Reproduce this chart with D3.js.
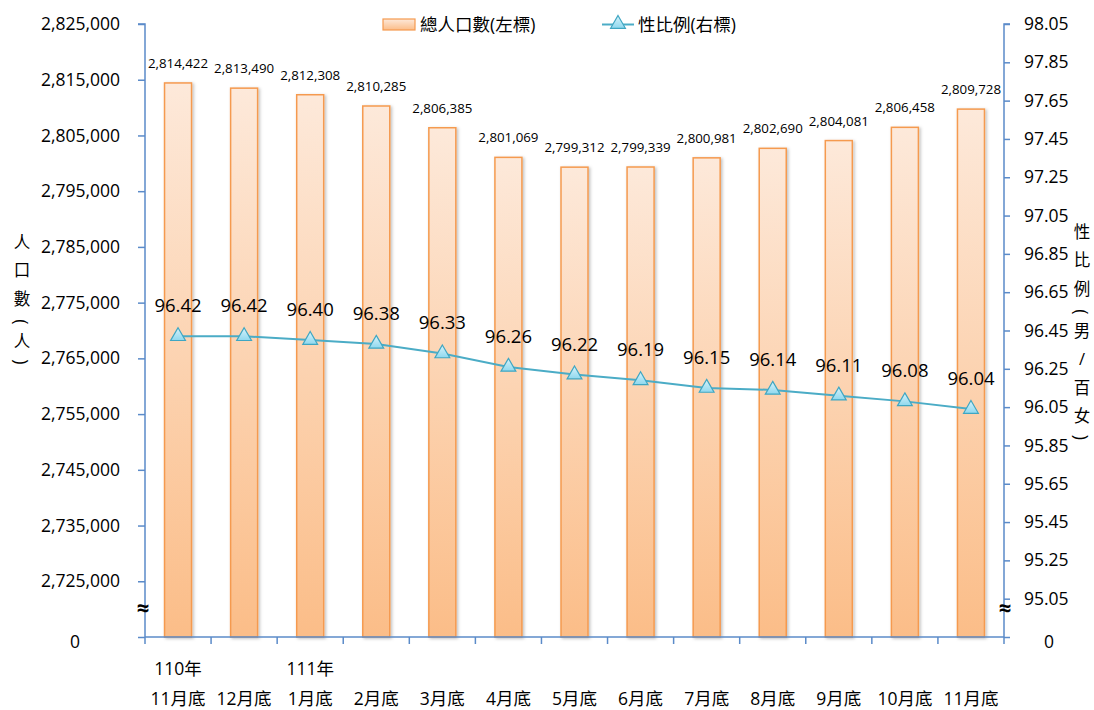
<!DOCTYPE html>
<html><head><meta charset="utf-8">
<script src="https://cdn.jsdelivr.net/npm/d3@7/dist/d3.min.js"></script>
<style>
body{margin:0;background:#fff;}
text{font-family:"Open Sans","Noto Sans","Noto Sans CJK TC",sans-serif;fill:#000;}
</style></head>
<body><svg id="chart" width="1094" height="710"></svg>
<script>
const yearLabels = ["110年","","111年","","","","","","","","","",""];
const monthLabels = ["11月底","12月底","1月底","2月底","3月底","4月底","5月底","6月底","7月底","8月底","9月底","10月底","11月底"];
const population = [2814422,2813490,2812308,2810285,2806385,2801069,2799312,2799339,2800981,2802690,2804081,2806458,2809728];
const sexRatio = [96.42,96.42,96.40,96.38,96.33,96.26,96.22,96.19,96.15,96.14,96.11,96.08,96.04];
const leftTicks = [2725000,2735000,2745000,2755000,2765000,2775000,2785000,2795000,2805000,2815000,2825000];
const rightTicks = [95.05,95.25,95.45,95.65,95.85,96.05,96.25,96.45,96.65,96.85,97.05,97.25,97.45,97.65,97.85,98.05];
const legendNames = ["總人口數(左標)","性比例(右標)"];
const leftTitle = "人口數(人)";
const rightTitle = "性比例(男/百女)";

const svg = d3.select("#chart");
const L = 145, R = 1004, T = 24, B = 637;
const idx = d3.range(monthLabels.length);
const x = d3.scaleBand().domain(idx).range([L, R]).paddingInner(0).paddingOuter(0);
const yL = d3.scaleLinear().domain([2715000, 2825000]).range([B, T]);
const yR = d3.scaleLinear().domain([94.85, 98.05]).range([B, T]);
const axisColor = "#5b8bc9";
const cjk = '"Noto Sans CJK TC","Open Sans",sans-serif';

const defs = svg.append("defs");
const g1 = defs.append("linearGradient").attr("id","barGrad").attr("x1",0).attr("y1",0).attr("x2",0).attr("y2",1);
g1.append("stop").attr("offset","0%").attr("stop-color","#fde9da");
g1.append("stop").attr("offset","100%").attr("stop-color","#fbbd88");
const g2 = defs.append("linearGradient").attr("id","triGrad").attr("x1",0).attr("y1",0).attr("x2",0).attr("y2",1);
g2.append("stop").attr("offset","0%").attr("stop-color","#d8f3fb");
g2.append("stop").attr("offset","100%").attr("stop-color","#8fd8ee");
const f = defs.append("filter").attr("id","shadow").attr("x","-30%").attr("y","-10%").attr("width","160%").attr("height","120%");
f.append("feDropShadow").attr("dx",1.5).attr("dy",1).attr("stdDeviation",1.5).attr("flood-color","#000").attr("flood-opacity",0.25);

// bars
const bw = 27;
svg.append("g").selectAll("rect").data(population).join("rect")
  .attr("x",(d,i)=>x(i)+x.bandwidth()/2-bw/2)
  .attr("y",d=>yL(d))
  .attr("width",bw)
  .attr("height",d=>B-yL(d))
  .attr("fill","url(#barGrad)")
  .attr("stroke","#f59a4f").attr("stroke-width",1.5)
  .attr("filter","url(#shadow)");

// bar labels
svg.append("g").selectAll("text").data(population).join("text")
  .attr("x",(d,i)=>x(i)+x.bandwidth()/2)
  .attr("y",d=>yL(d)-15)
  .attr("text-anchor","middle").attr("font-size",13.3)
  .text(d=>d3.format(",")(d));

// left axis
const axL = d3.axisLeft(yL).tickValues(leftTicks.concat([2715000])).tickSize(7).tickPadding(18)
  .tickFormat(d=>d===2715000?"0":d3.format(",")(d));
const gL = svg.append("g").attr("transform",`translate(${L},0)`).call(axL);
gL.select(".domain").attr("stroke",axisColor).attr("stroke-width",1.5).attr("d",`M-7,${T}H0V${B}`);
gL.selectAll(".tick line").attr("stroke",axisColor).attr("stroke-width",1.5);
gL.selectAll(".tick text").attr("font-size",17.5).attr("font-family",'"Open Sans","Noto Sans",sans-serif');
gL.selectAll(".tick").filter(d=>d===2715000).select("text").attr("dx",-40).attr("dy","0.6em");

// right axis
const axR = d3.axisRight(yR).tickValues(rightTicks.concat([94.85])).tickSize(6).tickPadding(14)
  .tickFormat(d=>d===94.85?"0":d3.format(".2f")(d));
const gR = svg.append("g").attr("transform",`translate(${R},0)`).call(axR);
gR.select(".domain").attr("stroke",axisColor).attr("stroke-width",1.5).attr("d",`M6,${T}H0V${B}`);
gR.selectAll(".tick line").attr("stroke",axisColor).attr("stroke-width",1.5);
gR.selectAll(".tick text").attr("font-size",17.5).attr("font-family",'"Open Sans","Noto Sans",sans-serif');
gR.selectAll(".tick").filter(d=>d===94.85).select("text").attr("dx",20).attr("dy","0.6em");

// x axis
const gX = svg.append("g").attr("transform",`translate(0,${B})`);
gX.append("line").attr("x1",L).attr("x2",R).attr("stroke",axisColor).attr("stroke-width",1.5);
gX.selectAll(".xt").data(d3.range(monthLabels.length+1)).join("line")
  .attr("x1",i=>i<monthLabels.length?x(i):R).attr("x2",i=>i<monthLabels.length?x(i):R)
  .attr("y1",0).attr("y2",7).attr("stroke",axisColor).attr("stroke-width",1.5);
gX.selectAll(".yl").data(yearLabels).join("text")
  .attr("x",(d,i)=>x(i)+x.bandwidth()/2).attr("y",38)
  .attr("text-anchor","middle").attr("font-size",17.5).attr("font-family",cjk).text(d=>d);
gX.selectAll(".ml").data(monthLabels).join("text")
  .attr("x",(d,i)=>x(i)+x.bandwidth()/2).attr("y",68)
  .attr("text-anchor","middle").attr("font-size",17.5).attr("font-family",cjk).text(d=>d);

// break symbols
[L-2, R+1].forEach(px=>{
  svg.append("text").attr("x",px).attr("y",616).attr("text-anchor","middle")
    .attr("font-size",22).attr("font-weight","bold").text("≈");
});

// line
const line = d3.line().x((d,i)=>x(i)+x.bandwidth()/2).y(d=>yR(d));
svg.append("path").datum(sexRatio).attr("d",line).attr("fill","none")
  .attr("stroke","#4bacc6").attr("stroke-width",2);
const tri = d3.symbol().type(d3.symbolTriangle).size(95);
svg.append("g").selectAll("path").data(sexRatio).join("path")
  .attr("d",tri)
  .attr("transform",(d,i)=>`translate(${x(i)+x.bandwidth()/2},${yR(d)})`)
  .attr("fill","url(#triGrad)").attr("stroke","#3fa6c2").attr("stroke-width",1.2);
svg.append("g").selectAll("text").data(sexRatio).join("text")
  .attr("x",(d,i)=>x(i)+x.bandwidth()/2).attr("y",d=>yR(d)-24)
  .attr("text-anchor","middle").attr("font-size",18.5)
  .text(d=>d3.format(".2f")(d));

// vertical axis titles
function vertical(str, cx, startY){
  const chars = Array.from(str);
  const isOpen = c => c==="(", isClose = c => c===")";
  let y = startY;
  const gT = svg.append("g");
  chars.forEach((c,i)=>{
    if(i>0){
      const prev = chars[i-1];
      if(isOpen(prev)) y += 18;
      else if(isOpen(c)) y += 24;
      else if(isClose(c)) y += 22;
      else y += 28.5;
    }
    const t = gT.append("text").attr("text-anchor","middle")
      .attr("dominant-baseline","central").attr("font-size",16.5).attr("font-family",cjk).text(c);
    if(isOpen(c) || isClose(c)){
      t.attr("transform",`translate(${cx},${y}) rotate(90)`).attr("font-size",18)
        .attr("font-family",'"Open Sans",sans-serif');
    } else {
      t.attr("x",cx).attr("y",y);
    }
  });
}
vertical(leftTitle, 22, 241);
vertical(rightTitle, 1082, 231);

// legend
const lg = svg.append("g");
lg.append("rect").attr("x",383).attr("y",19).attr("width",32).attr("height",11)
  .attr("fill","url(#barGrad)").attr("stroke","#f59a4f").attr("stroke-width",1.2);
lg.append("text").attr("x",420).attr("y",31).attr("font-size",17.5).attr("font-family",cjk).text(legendNames[0]);
lg.append("line").attr("x1",602).attr("x2",634).attr("y1",24.5).attr("y2",24.5).attr("stroke","#4bacc6").attr("stroke-width",2);
lg.append("path").attr("d",tri).attr("transform","translate(618,24)")
  .attr("fill","url(#triGrad)").attr("stroke","#3fa6c2").attr("stroke-width",1.2);
lg.append("text").attr("x",638).attr("y",31).attr("font-size",17.5).attr("font-family",cjk).text(legendNames[1]);
</script></body></html>
